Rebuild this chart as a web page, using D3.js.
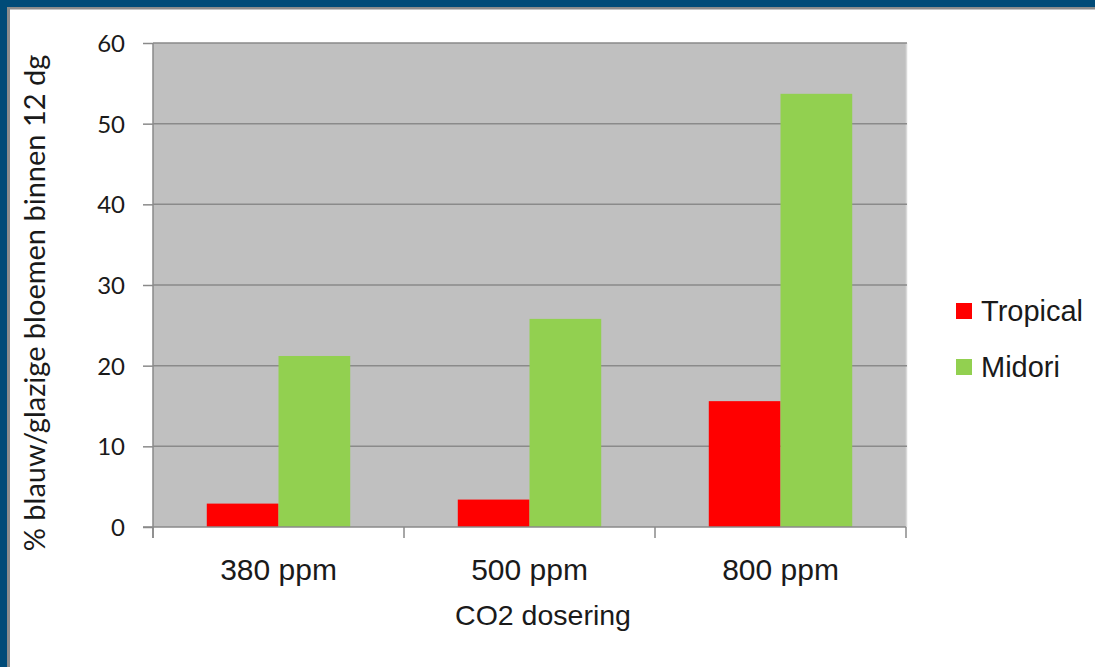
<!DOCTYPE html>
<html><head><meta charset="utf-8">
<script src="https://cdn.jsdelivr.net/npm/d3@7"></script>
<style>
html,body{margin:0;padding:0;background:#fff;}
svg{display:block;}
</style></head>
<body>
<svg id="chart" width="1095" height="667"></svg>
<script>
const categories = ["380 ppm", "500 ppm", "800 ppm"];
const seriesNames = ["Tropical", "Midori"];
const tropicalValues = [2.9, 3.4, 15.6];
const midoriValues = [21.2, 25.8, 53.7];
const yTicks = [0, 10, 20, 30, 40, 50, 60];
const seriesColors = ["#ff0000", "#92d050"];
const yTitle = "% blauw/glazige bloemen binnen 12 dg";
const xTitle = "CO2 dosering";

const svg = d3.select("#chart");
const W = 1095, H = 667;
const narrow = "'Liberation Sans', Arial, sans-serif";
const calib = "Lato, 'Open Sans', sans-serif";

// frame
svg.append("rect").attr("x",0).attr("y",0).attr("width",W).attr("height",H).attr("fill","#fff");
svg.append("rect").attr("x",0).attr("y",0).attr("width",W).attr("height",7).attr("fill","#004b78");
svg.append("rect").attr("x",0).attr("y",7).attr("width",W).attr("height",2.5).attr("fill","#8c8c8c");
svg.append("rect").attr("x",0).attr("y",0).attr("width",7).attr("height",H).attr("fill","#004b78");
svg.append("rect").attr("x",7).attr("y",7).attr("width",3).attr("height",H).attr("fill","#8c8c8c");

const plot = {left:153, right:906, top:43, bottom:527};

const x0 = d3.scaleBand().domain(categories).range([plot.left, plot.right]).padding(0);
const x1 = d3.scaleBand().domain(seriesNames).range([0, x0.bandwidth()]).paddingInner(0).paddingOuter(0.75);
const y = d3.scaleLinear().domain([0, 60]).range([plot.bottom, plot.top]);

svg.append("rect").attr("x",plot.left).attr("y",plot.top)
  .attr("width",plot.right-plot.left).attr("height",plot.bottom-plot.top).attr("fill","#c0c0c0");
svg.append("line").attr("x1",plot.right+0.5).attr("x2",plot.right+0.5).attr("y1",plot.top).attr("y2",plot.bottom)
  .attr("stroke","#d9d9d9").attr("stroke-width",1.5);

// gridlines
svg.append("g").selectAll("line").data(yTicks.filter(d=>d>0)).join("line")
  .attr("x1",plot.left).attr("x2",plot.right+1)
  .attr("y1",d=>y(d)).attr("y2",d=>y(d))
  .attr("stroke","#8a8a8a").attr("stroke-width",1.5);

// bars
const data = categories.map((c,i)=>({cat:c, vals:[tropicalValues[i], midoriValues[i]]}));
const groups = svg.append("g").selectAll("g").data(data).join("g")
  .attr("transform",d=>`translate(${x0(d.cat)},0)`);
groups.selectAll("rect").data(d=>d.vals.map((v,j)=>({name:seriesNames[j], v, j}))).join("rect")
  .attr("x",d=>x1(d.name)).attr("width",x1.bandwidth())
  .attr("y",d=>y(d.v)).attr("height",d=>y(0)-y(d.v))
  .attr("fill",d=>seriesColors[d.j]);

// y axis
const yAxis = d3.axisLeft(y).tickValues(yTicks).tickSize(10).tickPadding(18).tickFormat(d3.format("d"));
const gy = svg.append("g").attr("transform",`translate(${plot.left},0)`).call(yAxis);
gy.select(".domain").attr("stroke","#8a8a8a").attr("stroke-width",1.5).attr("d",`M0,${plot.top}V${plot.bottom+11}`);
gy.selectAll(".tick line").attr("stroke","#8a8a8a").attr("stroke-width",1.5);
gy.selectAll(".tick text").attr("fill","#1a1a1a").style("font-family",calib).style("font-size","24px").attr("dy","0.35em");

// x axis
const xAxis = d3.axisBottom(x0).tickSize(0).tickPadding(32);
const gx = svg.append("g").attr("transform",`translate(0,${plot.bottom})`).call(xAxis);
gx.select(".domain").attr("stroke","#8a8a8a").attr("stroke-width",1.5).attr("d",`M${plot.left-10},0H${plot.right}`);
gx.selectAll(".tick text").attr("fill","#1a1a1a").style("font-family",narrow).style("font-size","30px");
// category boundary ticks
const bounds = categories.map(c=>x0(c)).concat([x0(categories[categories.length-1])+x0.bandwidth()]);
gx.selectAll(".btick").data(bounds).join("line").attr("class","btick")
  .attr("x1",d=>d).attr("x2",d=>d).attr("y1",0).attr("y2",11)
  .attr("stroke","#8a8a8a").attr("stroke-width",1.5);

// titles
svg.append("text").attr("transform",`translate(45,303) rotate(-90)`)
  .attr("text-anchor","middle").attr("fill","#1a1a1a")
  .style("font-family",calib).style("font-size","29px").text(yTitle);
svg.append("text").attr("x",543).attr("y",625).attr("text-anchor","middle")
  .attr("fill","#1a1a1a").style("font-family",narrow).style("font-size","28.5px").text(xTitle);

// legend
const leg = svg.append("g").attr("transform","translate(956,311)");
const li = leg.selectAll("g").data(seriesNames).join("g").attr("transform",(d,i)=>`translate(0,${i*56})`);
li.append("rect").attr("x",0).attr("y",-8).attr("width",16).attr("height",16).attr("fill",(d,i)=>seriesColors[i]);
li.append("text").attr("x",25).attr("y",0).attr("dy","0.36em").attr("fill","#1a1a1a")
  .style("font-family",narrow).style("font-size","29px").text(d=>d);
</script>
</body></html>
